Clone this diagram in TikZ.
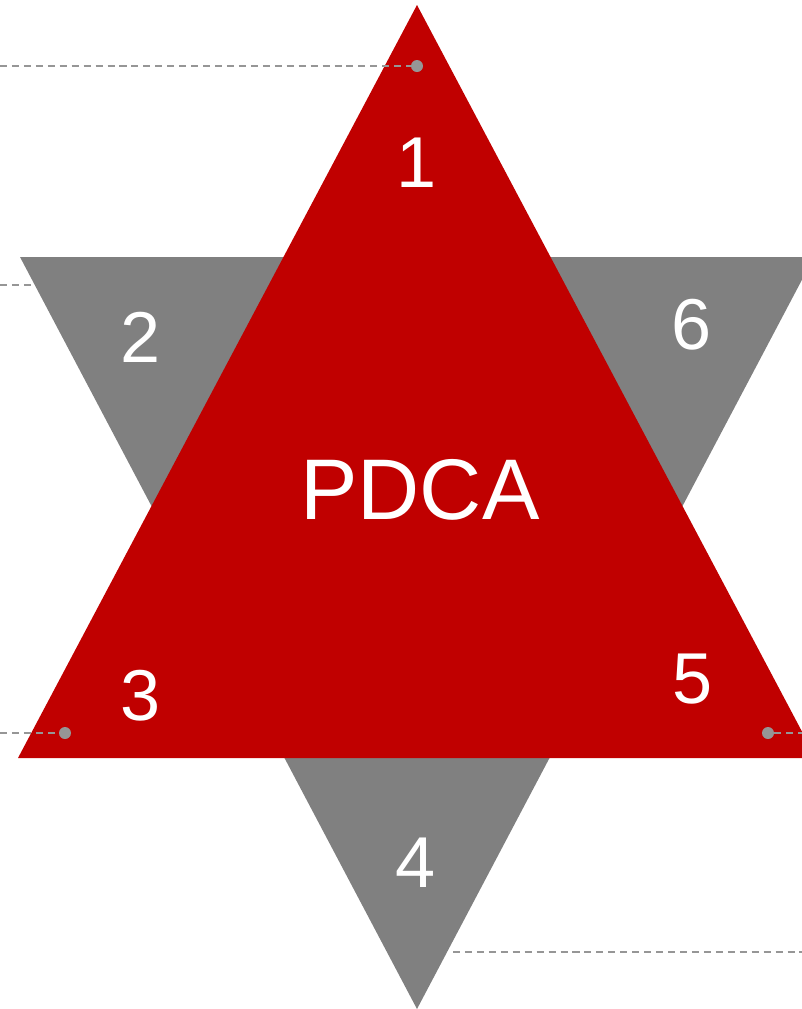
\documentclass[tikz,border=0pt]{standalone}
\usepackage{fontspec}
\setmainfont{Liberation Sans}
\usetikzlibrary{positioning}
\definecolor{pdcared}{RGB}{192,0,0}
\definecolor{stargray}{RGB}{128,128,128}
\definecolor{leadgray}{RGB}{150,150,150}
\tikzset{
    redtri/.style={fill=pdcared, draw=none},
    graytri/.style={fill=stargray, draw=none},
    stepnum/.style={text=white, font=\fontsize{41}{41}\selectfont, inner sep=0pt},
    pdcatitle/.style={text=white, font=\fontsize{49}{49}\selectfont, inner sep=0pt},
    leader/.style={leadgray, line width=1pt, dash pattern=on 4pt off 2.8pt},
    anchordot/.style={circle, fill=leadgray, inner sep=0pt, minimum size=0.24cm},
}

\begin{document}
\begin{tikzpicture}[x=0.02cm, y=-0.02cm]
    \useasboundingbox (0,0) rectangle (802,1009);
    \clip (0,0) rectangle (802,1009);
    % star: gray triangle behind, red triangle in front
    \coordinate (g1) at (20,257);
    \coordinate (g2) at (814,257);
    \coordinate (g3) at (417,1009);
    \coordinate (r1) at (417,5);
    \coordinate (r2) at (18,758);
    \coordinate (r3) at (816,758);
    \fill[graytri] (g1) -- (g2) -- (g3) -- cycle;
    \fill[redtri]  (r1) -- (r2) -- (r3) -- cycle;
    % leader lines
    \node[anchordot] (dot1) at (417,66) {};
    \node[anchordot] (dot3) at (65,733) {};
    \node[anchordot] (dot5) at (768,733) {};
    \coordinate (lead1) at (0,66);
    \coordinate (lead2a) at (0,285);
    \coordinate (lead2b) at (32,285);
    \coordinate (lead3) at (0,733);
    \coordinate (lead5) at (802,733);
    \coordinate (lead4a) at (453,952);
    \coordinate (lead4b) at (802,952);
    \draw[leader] (lead1) -- (dot1);
    \draw[leader] (lead2a) -- (lead2b);
    \draw[leader] (lead3) -- (dot3);
    \draw[leader] (dot5) -- (lead5);
    \draw[leader] (lead4a) -- (lead4b);
    % labels
    \node[pdcatitle] (pdca) at (420,490) {PDCA};
    \node[stepnum] (n1) at (417,163) {1};
    \node[stepnum] (n2) at (141,337) {2};
    \node[stepnum] (n3) at (141,696) {3};
    \node[stepnum] (n4) at (416,863) {4};
    \node[stepnum] (n5) at (693,679) {5};
    \node[stepnum] (n6) at (692,325) {6};
\end{tikzpicture}
\end{document}
